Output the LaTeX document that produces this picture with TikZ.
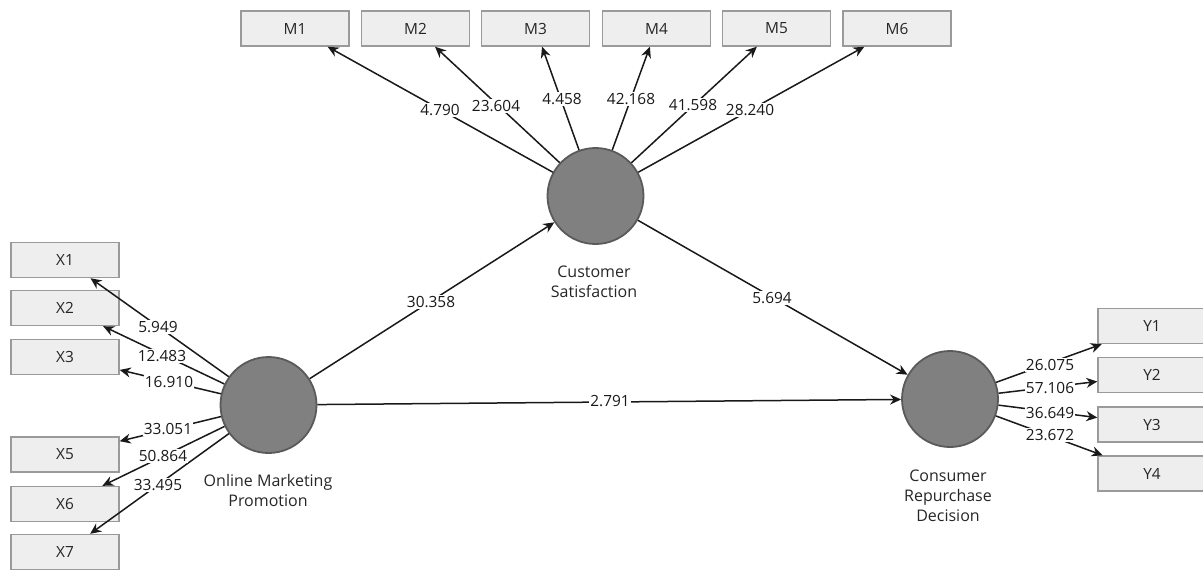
\documentclass[tikz,border=0pt]{standalone}
\usepackage{fontspec}
\setmainfont{Open Sans}
\usetikzlibrary{arrows.meta}
\definecolor{boxfill}{HTML}{EEEEEE}
\definecolor{boxdraw}{HTML}{9A9A9A}
\definecolor{lvfill}{HTML}{808080}
\definecolor{lvdraw}{HTML}{5A5A5A}
\begin{document}
\begin{tikzpicture}[x=0.5pt,y=-0.5pt,
 ind/.style={draw=boxdraw,fill=boxfill,line width=0.7pt,minimum width=54pt,minimum height=17.5pt,inner sep=0pt,font=\fontsize{7.7}{9}\selectfont,text=black!85},
 lv/.style={circle,draw=lvdraw,fill=lvfill,line width=0.9pt,minimum size=48pt,inner sep=0pt},
 lvname/.style={align=center,inner sep=0pt,font=\fontsize{8}{10}\selectfont,text=black!85},
 arr/.style={-{Stealth[length=5.5pt,width=5pt]},line width=0.75pt,draw=black!90},
 val/.style={fill=white,inner sep=0.6pt,font=\fontsize{7.7}{9}\selectfont,text=black!90}]
\useasboundingbox (0,0) rectangle (1203,569);
% latent variables
\node[lv] (omp) at (268.5,405) {};
\node[lv] (cs) at (595.5,196) {};
\node[lv] (crd) at (950,399) {};
\node[lvname] (ompname) at (268,490) {Online Marketing\\Promotion};
\node[lvname] (csname) at (594,282) {Customer\\Satisfaction};
\node[lvname] (crdname) at (948,496) {Consumer\\Repurchase\\Decision};
% indicators M
\node[ind] (m1) at (295,28.5) {M1};
\node[ind] (m2) at (415.5,28.5) {M2};
\node[ind] (m3) at (535.5,28.5) {M3};
\node[ind] (m4) at (656.5,28.5) {M4};
\node[ind] (m5) at (776.5,28.5) {M5};
\node[ind] (m6) at (897,28.5) {M6};
% indicators X
\node[ind] (x1) at (65,260) {X1};
\node[ind] (x2) at (65,308) {X2};
\node[ind] (x3) at (65,357) {X3};
\node[ind] (x5) at (65,454.5) {X5};
\node[ind] (x6) at (65,504) {X6};
\node[ind] (x7) at (65,552) {X7};
% indicators Y
\node[ind] (y1) at (1152,326) {Y1};
\node[ind] (y2) at (1152,375) {Y2};
\node[ind] (y3) at (1152,424.5) {Y3};
\node[ind] (y4) at (1152,473.5) {Y4};
% arrows
\foreach \t in {m1,m2,m3,m4,m5,m6} \draw[arr] (cs) -- (\t);
\foreach \t in {x1,x2,x3,x5,x6,x7} \draw[arr] (omp) -- (\t);
\foreach \t in {y1,y2,y3,y4} \draw[arr] (crd) -- (\t);
\draw[arr] (omp) -- (cs);
\draw[arr] (cs) -- (crd);
\draw[arr] (omp) -- (crd);
% values
\node[val] (vm1) at (440,110) {4.790};
\node[val] (vm2) at (496,106) {23.604};
\node[val] (vm3) at (562,99) {4.458};
\node[val] (vm4) at (631,99) {42.168};
\node[val] (vm5) at (693,105) {41.598};
\node[val] (vm6) at (750,110) {28.240};
\node[val] (vx1) at (158,327) {5.949};
\node[val] (vx2) at (162,356) {12.483};
\node[val] (vx3) at (169,382) {16.910};
\node[val] (vx5) at (168,429) {33.051};
\node[val] (vx6) at (163,456) {50.864};
\node[val] (vx7) at (158,485) {33.495};
\node[val] (vy1) at (1050,365) {26.075};
\node[val] (vy2) at (1050,388) {57.106};
\node[val] (vy3) at (1050,413) {36.649};
\node[val] (vy4) at (1050,435) {23.672};
\node[val] (v1) at (431,302) {30.358};
\node[val] (v2) at (772,298) {5.694};
\node[val] (v3) at (610,401) {2.791};
\end{tikzpicture}
\end{document}
